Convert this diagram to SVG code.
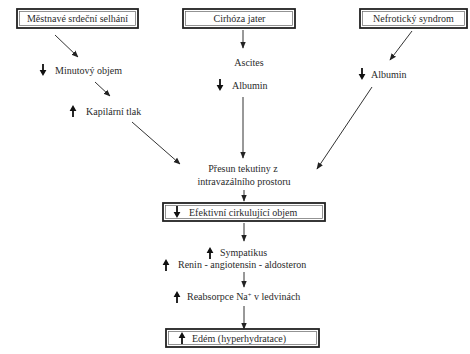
<svg xmlns="http://www.w3.org/2000/svg" width="470" height="354" viewBox="0 0 470 354">
<defs>
<marker id="ah" viewBox="0 0 10 10" refX="9" refY="5" markerWidth="7" markerHeight="7" orient="auto" markerUnits="userSpaceOnUse">
<path d="M0,1 L10,5 L0,9 Z" fill="#222"/>
</marker>
<path id="dn" d="M-0.9,-6 L0.9,-6 L0.9,0 L3.4,0 L0,6 L-3.4,0 L-0.9,0 Z" fill="#111"/>
<path id="up" d="M-0.9,6 L0.9,6 L0.9,0 L3.4,0 L0,-6 L-3.4,0 L-0.9,0 Z" fill="#111"/>
</defs>
<style>
text{font-family:"Liberation Serif","Times New Roman",serif;font-size:10px;fill:#2a2a2a}
.ob{fill:#fff;stroke:#222;stroke-width:1.8}
.ib{fill:none;stroke:#666;stroke-width:0.7}
.c{fill:none;stroke:#333;stroke-width:1;marker-end:url(#ah)}
</style>
<rect width="470" height="354" fill="#fff"/>
<g id="n-chf">
<rect class="ob" x="17" y="9" width="121" height="19"/><rect class="ib" x="19.5" y="11.5" width="116" height="14"/>
<text x="77.5" y="22" text-anchor="middle">Městnavé srdeční selhání</text>
</g>
<g id="n-cirh">
<rect class="ob" x="183" y="9" width="112" height="19"/><rect class="ib" x="185.5" y="11.5" width="107" height="14"/>
<text x="239.5" y="22" text-anchor="middle">Cirhóza jater</text>
</g>
<g id="n-nef">
<rect class="ob" x="360" y="9" width="107" height="19"/><rect class="ib" x="362.5" y="11.5" width="102" height="14"/>
<text x="413.5" y="22" text-anchor="middle">Nefrotický syndrom</text>
</g>
<g id="n-min">
<use href="#dn" x="43" y="70"/>
<text x="55" y="74">Minutový objem</text>
</g>
<g id="n-kap">
<use href="#up" x="73" y="111"/>
<text x="86" y="115">Kapilární tlak</text>
</g>
<g id="n-asc">
<text x="249" y="66" text-anchor="middle">Ascites</text>
</g>
<g id="n-alb1">
<use href="#dn" x="220" y="85"/>
<text x="232" y="89">Albumin</text>
</g>
<g id="n-alb2">
<use href="#dn" x="362" y="74"/>
<text x="371" y="78">Albumin</text>
</g>
<g id="n-presun">
<text x="243" y="172" text-anchor="middle">Přesun tekutiny z</text>
<text x="244" y="185" text-anchor="middle">intravazálního prostoru</text>
</g>
<g id="n-ef">
<rect class="ob" x="163" y="203" width="162" height="18"/><rect class="ib" x="165.5" y="205.5" width="157" height="13"/>
<use href="#dn" x="177" y="212"/>
<text x="189" y="216">Efektivní cirkulující objem</text>
</g>
<g id="n-symp">
<use href="#up" x="210" y="253"/>
<text x="220" y="256">Sympatikus</text>
<use href="#up" x="166" y="265"/>
<text x="178" y="268">Renin - angiotensin - aldosteron</text>
</g>
<g id="n-reab">
<use href="#up" x="177" y="297"/>
<text x="187" y="300">Reabsorpce Na<tspan dy="-3.5" font-size="6.5">+</tspan><tspan dy="3.5"> v ledvinách</tspan></text>
</g>
<g id="n-edem">
<rect class="ob" x="166" y="329" width="153" height="18"/><rect class="ib" x="168.5" y="331.5" width="148" height="13"/>
<use href="#up" x="182" y="338"/>
<text x="192" y="342">Edém (hyperhydratace)</text>
</g>
<g id="connectors">
<line class="c" x1="55" y1="35" x2="78" y2="57"/>
<line class="c" x1="95" y1="82" x2="110" y2="96"/>
<line class="c" x1="132" y1="122" x2="180" y2="164"/>
<line class="c" x1="243" y1="30" x2="243" y2="48"/>
<line class="c" x1="243" y1="97" x2="243" y2="158"/>
<line class="c" x1="412" y1="31" x2="390" y2="60"/>
<line class="c" x1="372" y1="87" x2="317" y2="169"/>
<line class="c" x1="244" y1="190" x2="244" y2="201"/>
<line class="c" x1="244" y1="223" x2="244" y2="241"/>
<line class="c" x1="244" y1="272" x2="244" y2="287"/>
<line class="c" x1="244" y1="306" x2="244" y2="329"/>
</g>
</svg>
